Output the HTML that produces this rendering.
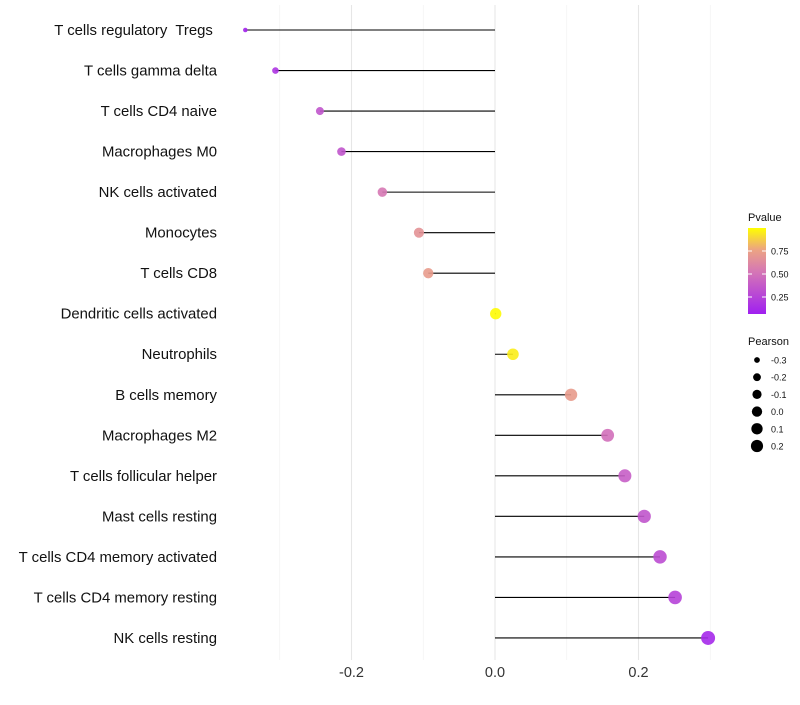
<!DOCTYPE html>
<html><head><meta charset="utf-8"><style>
body{margin:0;background:#fff;font-family:"Liberation Sans",sans-serif;}
svg text{font-family:"Liberation Sans",sans-serif;white-space:pre;}
</style></head><body>
<svg id="c" width="800" height="700"></svg>
<script>
const categories=["T cells regulatory  Tregs ","T cells gamma delta","T cells CD4 naive","Macrophages M0","NK cells activated","Monocytes","T cells CD8","Dendritic cells activated","Neutrophils","B cells memory","Macrophages M2","T cells follicular helper","Mast cells resting","T cells CD4 memory activated","T cells CD4 memory resting","NK cells resting"];
const pearson=[-0.348,-0.306,-0.244,-0.214,-0.157,-0.106,-0.093,0.001,0.025,0.106,0.157,0.181,0.208,0.230,0.251,0.297];
const pvalue=[0.03,0.12,0.3,0.3,0.5,0.65,0.7,0.99,0.95,0.7,0.45,0.35,0.3,0.25,0.2,0.05];
const xTicks=[-0.2,0.0,0.2];
const gridVals=[-0.3,-0.1,0.1,0.3];
const sizeLegend=[-0.3,-0.2,-0.1,0.0,0.1,0.2];
const pTicks=[0.25,0.5,0.75];

const NS="http://www.w3.org/2000/svg";
const svg=document.getElementById('c');
function el(t,a,p){const e=document.createElementNS(NS,t);for(const k in a)e.setAttribute(k,a[k]);(p||svg).appendChild(e);return e;}
const x=v=>495+v*717.5;
const y=i=>30+i*40.53;
const r=v=>2+5*Math.sqrt(Math.max(0,v+0.35)/0.65);
const stops=[[0,[160,32,240]],[0.5,[214,120,180]],[0.75,[236,164,130]],[1,[255,255,0]]];
function col(p){for(let i=1;i<stops.length;i++){if(p<=stops[i][0]){const a=stops[i-1],b=stops[i];const t=(p-a[0])/(b[0]-a[0]);const c=a[1].map((v,k)=>Math.round(v+(b[1][k]-v)*t));return `rgb(${c})`;}}return 'rgb(255,255,0)';}

const g=el('g',{});

gridVals.forEach(v=>{el('line',{x1:x(v),x2:x(v),y1:5,y2:660,stroke:'#f0f0f0','stroke-width':0.6},g);});
xTicks.forEach(v=>{el('line',{x1:x(v),x2:x(v),y1:5,y2:660,stroke:'#e6e6e6','stroke-width':1.1},g);});

xTicks.forEach(v=>{const t=el('text',{x:x(v),y:677,'text-anchor':'middle','font-size':14.5,fill:'#333'});t.textContent=v.toFixed(1);
});

categories.forEach((c,i)=>{
const t=el('text',{x:217,y:y(i)+5,'text-anchor':'end','font-size':14.9,fill:'#111'});t.textContent=c;

const l=el('line',{x1:x(0),x2:x(pearson[i]),y1:y(i),y2:y(i),stroke:'#000','stroke-width':1.1});

const d=el('circle',{cx:x(pearson[i]),cy:y(i),r:r(pearson[i]),fill:col(pvalue[i]),'fill-opacity':0.9});

});

const lg=el('g',{});
el('text',{x:748,y:221,'font-size':11,fill:'#111'},lg).textContent='Pvalue';
const defs=el('defs',{});const gr=el('linearGradient',{id:'pg',x1:0,y1:1,x2:0,y2:0},defs);
stops.forEach(s=>el('stop',{offset:s[0],'stop-color':`rgb(${s[1]})`},gr));
const bar=el('rect',{x:748,y:228,width:18,height:86,fill:'url(#pg)'},lg);

const py=p=>320-p*92;
pTicks.forEach(p=>{el('line',{x1:748,x2:752,y1:py(p),y2:py(p),stroke:'#fff'},lg);el('line',{x1:762,x2:766,y1:py(p),y2:py(p),stroke:'#fff'},lg);
el('text',{x:771,y:py(p)+3.5,'font-size':9,fill:'#111'},lg).textContent=p.toFixed(2);});
el('text',{x:748,y:345,'font-size':11,fill:'#111'},lg).textContent='Pearson';
sizeLegend.forEach((v,i)=>{const cy=360+i*17.2;el('circle',{cx:757,cy:cy,r:r(v)-0.5,fill:'#000'},lg);
el('text',{x:771,y:cy+3.5,'font-size':9,fill:'#111'},lg).textContent=v.toFixed(1);});
</script>
</body></html>
